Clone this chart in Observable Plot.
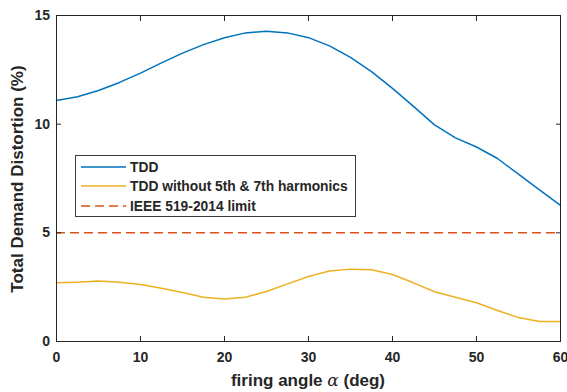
<!DOCTYPE html>
<html>
<head>
<meta charset="utf-8">
<script src="https://cdn.jsdelivr.net/npm/d3@7"></script>
<script src="https://cdn.jsdelivr.net/npm/@observablehq/plot@0.6"></script>
<style>
  html, body { margin: 0; padding: 0; background: #fff; }
  #wrap { position: relative; width: 567px; height: 392px; font-family: "Liberation Sans", Arial, Helvetica, sans-serif; color: #262626; }
  #chart { position: absolute; left: 0; top: 0; }
  .lbl { position: absolute; font-weight: bold; font-size: 17px; white-space: nowrap; line-height: 20px; }
  #xlabel { left: 0; width: 616px; text-align: center; top: 370px; }
  #ylabel { left: 17.5px; top: 179px; transform: translate(-50%, -50%) rotate(-90deg); }
  #legend { position: absolute; left: 75px; top: 155px; width: 281px; height: 62px; border: 1px solid #3a3a3a; background: #fff; box-sizing: border-box; font-size: 13.8px; font-weight: bold; }
  .entry { position: absolute; left: 0; height: 16px; display: flex; align-items: center; }
  .entry svg { margin-left: 5px; margin-right: 4px; }
</style>
</head>
<body>
<div id="wrap">
  <div id="chart"></div>
  <div id="legend"></div>
  <div class="lbl" id="ylabel">Total Demand Distortion (%)</div>
  <div class="lbl" id="xlabel">firing angle <span style="font-family:'DejaVu Serif','Liberation Serif',serif;font-style:italic;font-weight:normal;">α</span> (deg)</div>
</div>
<script>
// firing angle (deg)
const alpha = [0, 2.5, 5, 7.5, 10, 12.5, 15, 17.5, 20, 22.5, 25, 27.5, 30, 32.5, 35, 37.5, 40, 42.5, 45, 47.5, 50, 52.5, 55, 57.5, 60];
// TDD (%)
const tdd = [11.09, 11.26, 11.55, 11.92, 12.35, 12.82, 13.27, 13.66, 13.98, 14.2, 14.28, 14.2, 13.98, 13.6, 13.07, 12.42, 11.65, 10.82, 9.97, 9.37, 8.95, 8.42, 7.7, 6.98, 6.26];
// TDD without 5th & 7th harmonics (%)
const tddNo57 = [2.7, 2.73, 2.78, 2.73, 2.62, 2.45, 2.25, 2.04, 1.95, 2.04, 2.3, 2.65, 2.99, 3.24, 3.33, 3.3, 3.08, 2.7, 2.29, 2.04, 1.78, 1.43, 1.1, 0.92, 0.92];
// IEEE 519-2014 limit (%)
const limit = [5];
const xTicks = [0, 10, 20, 30, 40, 50, 60];
const yTicks = [0, 5, 10, 15];
const seriesNames = ["TDD", "TDD without 5th & 7th harmonics", "IEEE 519-2014 limit"];
const seriesColors = ["#0072BD", "#EDB120", "#D95319"];

const rows = alpha.map((a, i) => ({a, tdd: tdd[i], no57: tddNo57[i]}));
const axisCol = "#262626";
const blank = () => "";

const chart = Plot.plot({
  width: 567,
  height: 392,
  marginLeft: 56,
  marginRight: 7,
  marginTop: 15,
  marginBottom: 51,
  x: {domain: [0, 60]},
  y: {domain: [0, 15]},
  style: {fontFamily: "'Liberation Sans', Arial, Helvetica, sans-serif", fontSize: "14px", fontWeight: "bold", color: axisCol, background: "#fff", overflow: "visible"},
  marks: [
    Plot.ruleY(limit, {stroke: seriesColors[2], strokeWidth: 1.5, strokeDasharray: "9,5"}),
    Plot.line(rows, {x: "a", y: "no57", stroke: seriesColors[1], strokeWidth: 1.5}),
    Plot.line(rows, {x: "a", y: "tdd", stroke: seriesColors[0], strokeWidth: 1.5}),
    Plot.frame({stroke: axisCol, strokeWidth: 1}),
    Plot.axisX({ticks: xTicks, tickSize: 0, tickPadding: 11, label: null, fill: axisCol}),
    Plot.axisX({ticks: xTicks, tickSize: -5, tickFormat: blank, label: null, stroke: axisCol}),
    Plot.axisX({anchor: "top", ticks: xTicks, tickSize: -5, tickFormat: blank, label: null, stroke: axisCol}),
    Plot.axisY({ticks: yTicks, tickSize: 0, tickPadding: 6.5, label: null, fill: axisCol}),
    Plot.axisY({ticks: yTicks, tickSize: -5, tickFormat: blank, label: null, stroke: axisCol}),
    Plot.axisY({anchor: "right", ticks: yTicks, tickSize: -5, tickFormat: blank, label: null, stroke: axisCol})
  ]
});
document.getElementById("chart").appendChild(chart);

// legend
const legend = document.getElementById("legend");
const tops = [3, 22, 42];
seriesNames.forEach((name, i) => {
  const e = document.createElement("div");
  e.className = "entry";
  e.style.top = tops[i] + "px";
  const dash = i === 2 ? ' stroke-dasharray="9,5"' : "";
  e.innerHTML = `<svg width="45" height="6"><line x1="0" y1="3" x2="45" y2="3" stroke="${seriesColors[i]}" stroke-width="1.5"${dash}/></svg><span>${name}</span>`;
  legend.appendChild(e);
});
</script>
</body>
</html>
